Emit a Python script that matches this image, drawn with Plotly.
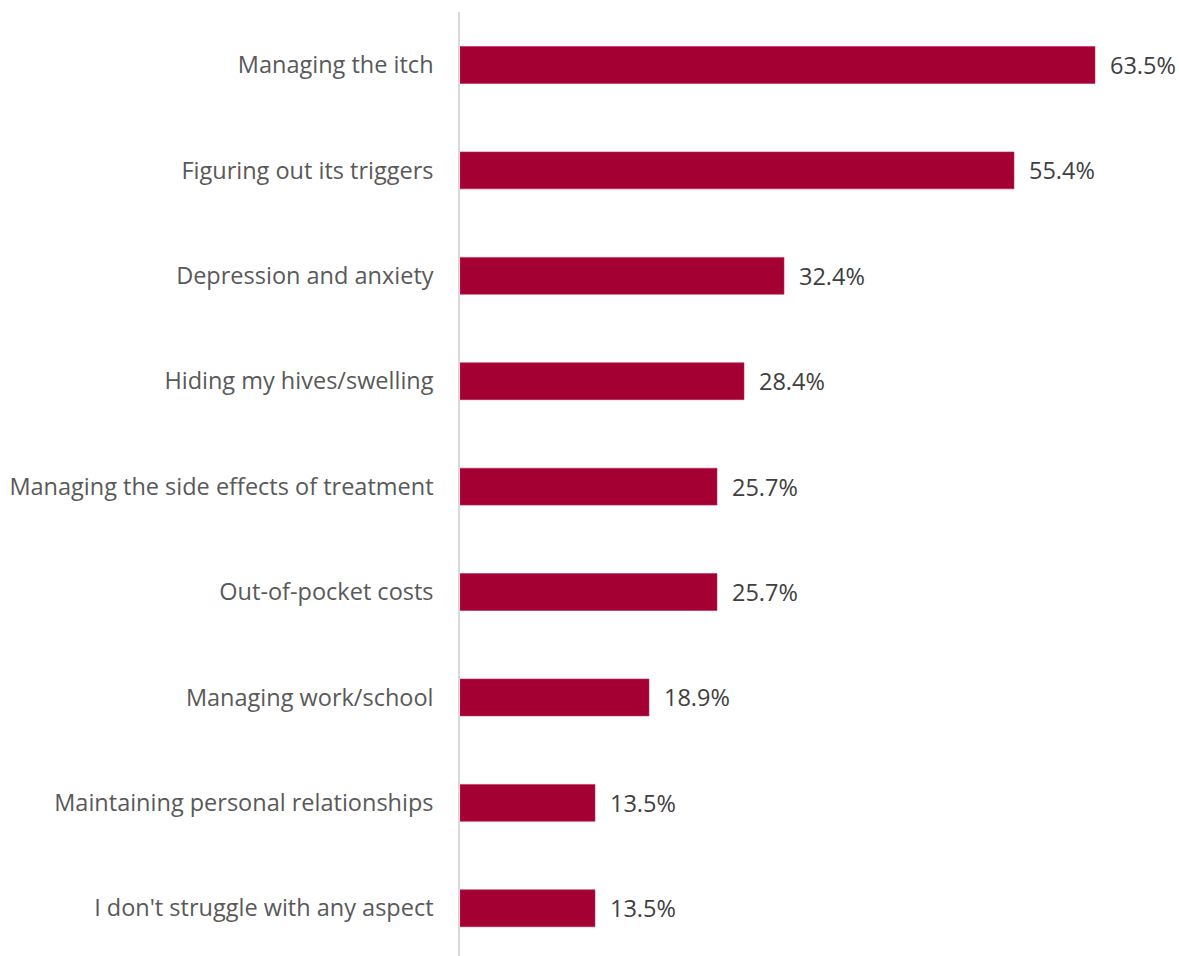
import plotly.graph_objects as go

categories = [
    "Managing the itch",
    "Figuring out its triggers",
    "Depression and anxiety",
    "Hiding my hives/swelling",
    "Managing the side effects of treatment",
    "Out-of-pocket costs",
    "Managing work/school",
    "Maintaining personal relationships",
    "I don't struggle with any aspect",
]
values = [63.5, 55.4, 32.4, 28.4, 25.7, 25.7, 18.9, 13.5, 13.5]

BAR_COLOR = "#A50034"
FONT = "Open Sans"
FONT_SIZE = 23.5

fig = go.Figure(
    go.Bar(
        x=values,
        y=categories,
        orientation="h",
        marker=dict(color=BAR_COLOR, line=dict(color="#B8285A", width=0.6)),
        hoverinfo="skip",
    )
)

# value labels to the right of each bar
for cat, v in zip(categories, values):
    fig.add_annotation(
        x=v, y=cat, text=f"{v:.1f}%", showarrow=False,
        xanchor="left", yanchor="middle", xshift=13,
        font=dict(family=FONT, size=FONT_SIZE, color="#404040"),
    )

fig.update_layout(
    width=1179, height=956,
    margin=dict(l=460, r=19, t=12, b=0),
    paper_bgcolor="white", plot_bgcolor="white",
    bargap=0.65,
    showlegend=False,
    xaxis=dict(range=[0, 70], visible=False, fixedrange=True),
    yaxis=dict(
        type="category",
        range=[8.453, -0.503],
        showline=True, linecolor="#D9D9D9", linewidth=1.5,
        showgrid=False, zeroline=False,
        ticks="", ticklabelstandoff=20,
        tickfont=dict(family=FONT, size=FONT_SIZE, color="#595959"),
    ),
)

fig.write_html("out.html")
